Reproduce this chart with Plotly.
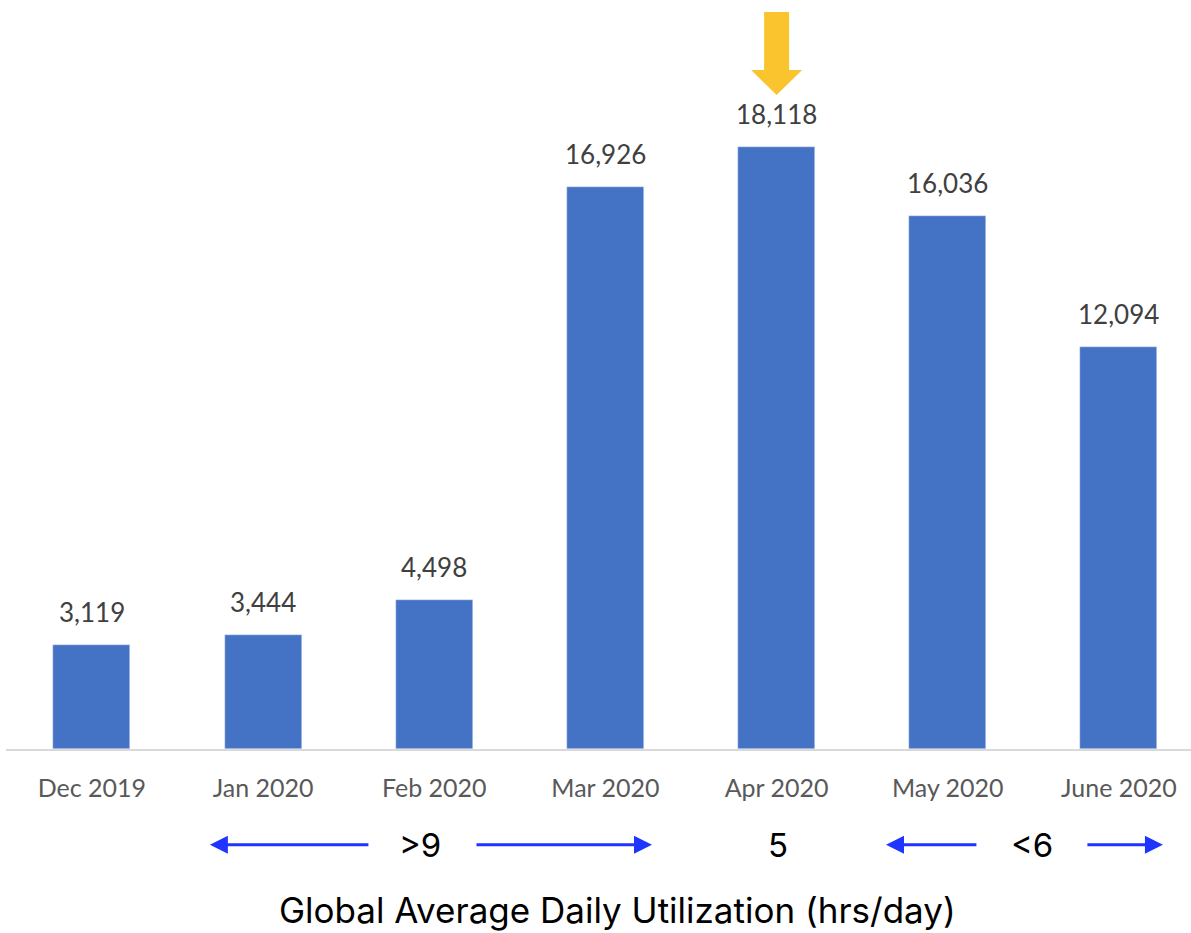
import plotly.graph_objects as go

months = ["Dec 2019", "Jan 2020", "Feb 2020", "Mar 2020", "Apr 2020", "May 2020", "June 2020"]
values = [3119, 3444, 4498, 16926, 18118, 16036, 12094]
value_labels = [f"{v:,}" for v in values]

bands = [
    # (label, label_x, left arrow (tail, head), right arrow (tail, head)) in category index units
    (">9", 1.916, (1.624, 0.689), (2.238, 3.272)),
    ("5", 4.008, None, None),
    ("<6", 5.49, (5.176, 4.639), (5.807, 6.257)),
]
axis_title = "Global Average Daily Utilization (hrs/day)"

BAR = "#4472C4"
BLUE = "#1F35FF"
YELLOW = "#F9C42E"

fig = go.Figure()
fig.add_trace(go.Bar(x=months, y=values, marker_color=BAR, width=0.45))

annotations = []
for m, v, t in zip(months, values, value_labels):
    annotations.append(dict(x=m, y=v, xref="x", yref="y", text=t, showarrow=False,
                            yanchor="middle", yshift=33,
                            font=dict(family="Lato", size=26, color="#404040")))

label_y = -0.128
for label, lx, la, ra in bands:
    annotations.append(dict(x=lx, y=label_y, xref="x", yref="paper", text=label,
                            showarrow=False, yanchor="middle",
                            font=dict(family="Inter", size=33, color="black")))
    for arr in (la, ra):
        if arr is None:
            continue
        tail, head = arr
        annotations.append(dict(x=head, y=label_y, xref="x", yref="paper",
                                ax=tail, ay=0, axref="x", ayref="pixel",
                                showarrow=True, arrowhead=2, arrowsize=1.2,
                                arrowwidth=3, arrowcolor=BLUE, text=""))
annotations.append(dict(x=0.516, y=-0.215, xref="paper", yref="paper", text=axis_title,
                        showarrow=False, yanchor="middle",
                        font=dict(family="Inter", size=35, color="black")))

# highlight arrow above the peak month
peak_i = values.index(max(values))
peak = max(values)
sw, hw = 0.073, 0.149
tip, neck, top = peak + 1563, peak + 2315, peak + 4061
path = (f"M {peak_i - sw} {top} L {peak_i + sw} {top} L {peak_i + sw} {neck} "
        f"L {peak_i + hw} {neck} L {peak_i} {tip} L {peak_i - hw} {neck} "
        f"L {peak_i - sw} {neck} Z")
fig.add_shape(type="path", path=path, xref="x", yref="y",
              fillcolor=YELLOW, line=dict(width=0))

fig.update_layout(
    width=1191, height=933,
    margin=dict(l=6, r=0, t=0, b=184),
    plot_bgcolor="white", paper_bgcolor="white",
    showlegend=False,
    annotations=annotations,
    bargap=0,
)
fig.update_xaxes(range=[-0.502, 6.421], showline=True, linecolor="#D9D9D9", linewidth=2,
                 ticks="", showgrid=False, ticklabelstandoff=16,
                 tickfont=dict(family="Lato", size=25, color="#595959"))
fig.update_yaxes(range=[0, 22540], visible=False, showgrid=False)

fig.write_html("out.html")
